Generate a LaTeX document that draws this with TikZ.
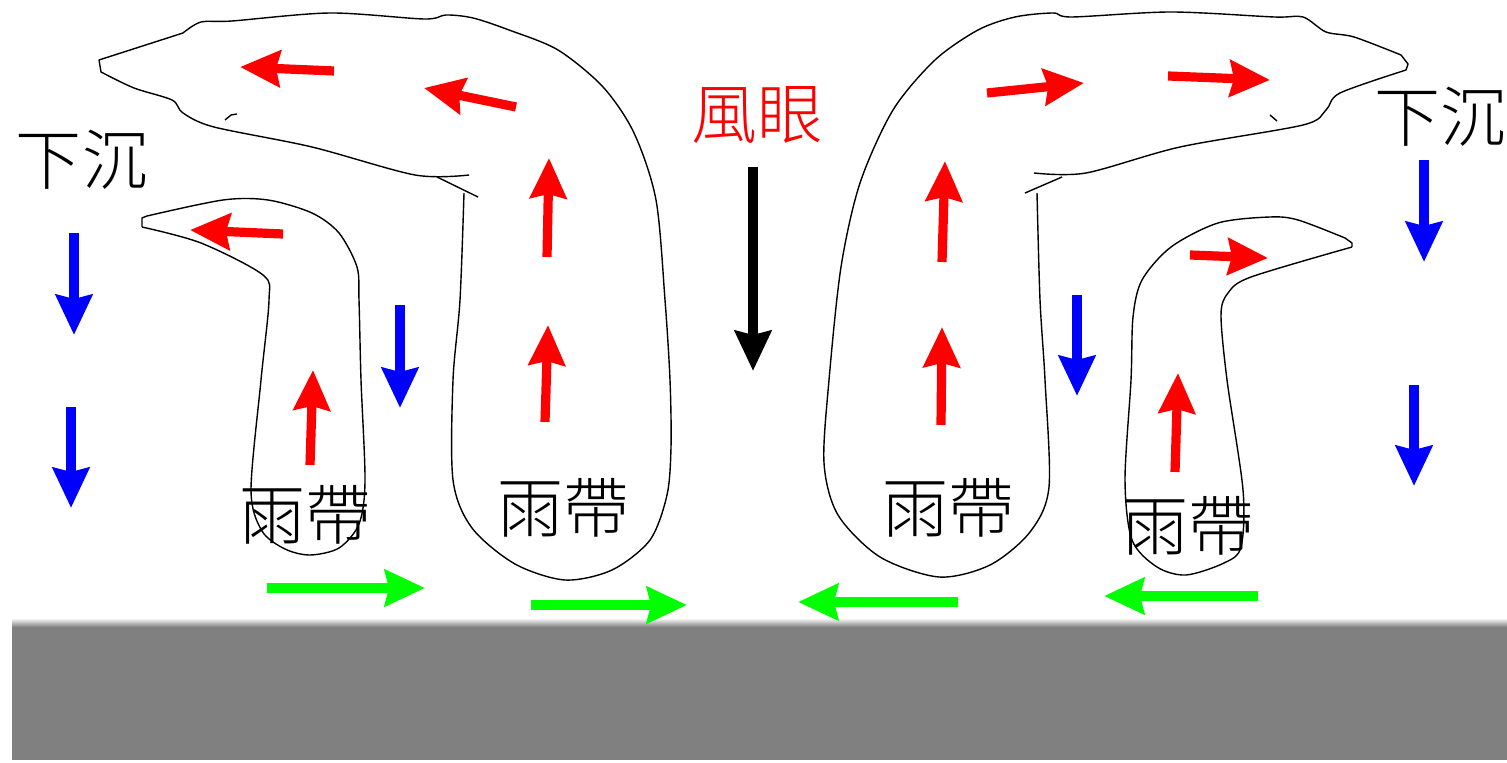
\documentclass[tikz,border=0pt]{standalone}
\usepackage{fontspec}
\newfontfamily\cjk{Noto Sans CJK TC Light}
\usetikzlibrary{arrows.meta}
\definecolor{rd}{RGB}{255,0,0}
\definecolor{bl}{RGB}{0,0,255}
\definecolor{gr}{RGB}{0,255,0}
\definecolor{gnd}{RGB}{128,128,128}
\tikzset{
  cloud/.style={draw=black, line width=0.7pt, line join=round},
  flow/.style={line width=4.6pt, -{Stealth[length=20pt, width=18pt, inset=2pt]}},
  upflow/.style={flow, draw=rd},
  downflow/.style={flow, draw=bl},
  inflow/.style={flow, draw=gr},
  eyeflow/.style={flow, draw=black, line width=5pt},
  lbl/.style={font=\cjk\fontsize{33}{33}\selectfont, inner sep=0pt}
}
\begin{document}
\begin{tikzpicture}[x=0.5pt, y=-0.5pt]
\useasboundingbox (0,0) rectangle (1507,763);
% ground
\fill[gnd] (12,626) rectangle (1507,760);
\shade[top color=white, bottom color=gnd] (12,618) rectangle (1507,627);

% left big cloud
\draw[cloud] plot[smooth, tension=0.5] coordinates {(469,175) (415,175) (312,147) (214,127) (183,113) (172,100) (134,88) (101,72)}
  -- (99,60) -- (183,33)
  -- plot[smooth, tension=0.5] coordinates {(183,33) (201,22) (232,21) (330,13) (424,19) (446,15) (473,18) (509,30) (558,50) (603,87) (634,133) (656,200) (665,300) (670,380) (671,447) (667,495) (650,540) (612,570) (565,580) (515,564) (472,528) (453,480) (453,380) (460,300) (464,193)};
\draw[cloud] (437,177) -- (478,197);
\draw[cloud] (225,120) -- (231,115) -- (237,114);
% left small cloud
\draw[cloud] (142,227) -- (142,218) -- (147,216)
  -- plot[smooth, tension=0.5] coordinates {(147,216) (223,200) (268,200) (312,213) (339,233) (357,267) (359,300) (361,380) (365,481) (359,524) (339,548) (310,555) (285,549) (262,531) (251,490) (261,380) (269,300) (263,275) (201,243) (142,227)};

% right big cloud
\draw[cloud] plot[smooth, tension=0.5] coordinates {(1034,173) (1086,173) (1180,147) (1303,125) (1326,110) (1340,93) (1406,70)}
  -- (1408,64) -- (1401,55)
  -- plot[smooth, tension=0.5] coordinates {(1401,55) (1354,37) (1326,32) (1303,17) (1274,17) (1171,12) (1072,17) (1053,13) (1015,17) (978,30) (935,60) (893,110) (860,183) (841,267) (829,380) (824,463) (838,515) (880,557) (939,577) (990,565) (1030,532) (1049,487) (1045,380) (1040,300) (1037,193)};
\draw[cloud] (1025,193) -- (1062,177);
\draw[cloud] (1270,115) -- (1277,121);
% right small cloud
\draw[cloud] (1352,247) -- (1352,243) -- (1345,238)
  -- plot[smooth, tension=0.5] coordinates {(1345,238) (1298,220) (1270,217) (1218,223) (1171,247) (1142,280) (1133,317) (1131,380) (1125,480) (1132,540) (1157,567) (1186,575) (1224,563) (1241,547) (1243,490) (1227,380) (1221,315) (1228,293) (1251,277) (1352,247)};

% red flows, left
\draw[upflow] (334,71) -- (240,67);
\draw[upflow] (516,107) -- (424,88);
\draw[upflow] (283,234) -- (190,230);
\draw[upflow] (547,257) -- (549,158);
\draw[upflow] (545,422) -- (548,325);
\draw[upflow] (310,465) -- (313,370);
% red flows, right
\draw[upflow] (987,93) -- (1084,83);
\draw[upflow] (1168,76) -- (1270,80);
\draw[upflow] (1190,255) -- (1268,258);
\draw[upflow] (942,262) -- (945,161);
\draw[upflow] (941,425) -- (942,327);
\draw[upflow] (1175,472) -- (1178,373);

% blue flows
\draw[downflow] (74,233) -- (74,335);
\draw[downflow] (71,407) -- (71,508);
\draw[downflow] (400,305) -- (400,408);
\draw[downflow] (1077,295) -- (1077,396);
\draw[downflow] (1424,160) -- (1424,262);
\draw[downflow] (1414,385) -- (1414,486);

% eye
\draw[eyeflow] (753,167) -- (753,371);

% green inflow
\draw[inflow] (267,588) -- (425,588);
\draw[inflow] (531,605) -- (687,605);
\draw[inflow] (958,602) -- (798,602);
\draw[inflow] (1258,596) -- (1104,596);

% labels
\node[lbl, text=rd] (eye) at (757,115) {風眼};
\node[lbl] (sinkL) at (82,160) {下沉};
\node[lbl] (sinkR) at (1440,117) {下沉};
\node[lbl] (bandA) at (305,515) {雨帶};
\node[lbl] (bandB) at (563,508) {雨帶};
\node[lbl] (bandC) at (948,508) {雨帶};
\node[lbl] (bandD) at (1188,526) {雨帶};
\end{tikzpicture}
\end{document}
